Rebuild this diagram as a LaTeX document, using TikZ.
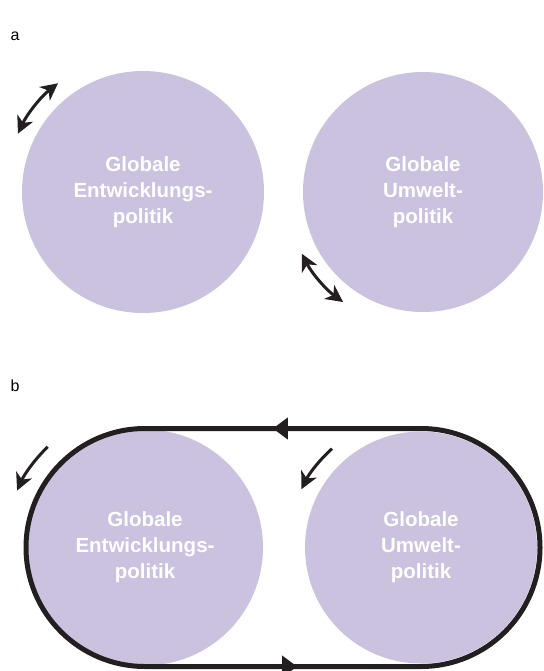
\documentclass[tikz,border=0pt]{standalone}
\usepackage{fontspec}
\newfontfamily\helv{Liberation Sans}
\usetikzlibrary{arrows.meta,decorations.markings}
\definecolor{lila}{HTML}{CAC2DE}
\definecolor{fast}{HTML}{231F20}

\begin{document}
\begin{tikzpicture}[x=1pt,y=-1pt,
  kreis/.style={circle,fill=lila,inner sep=0pt,minimum size=#1,
    text=white,align=center,font=\helv\bfseries\fontsize{20.5}{26}\selectfont},
  marke/.style={font=\helv\fontsize{16}{16}\selectfont},
  pfeil/.style={draw=fast,line width=3pt,-{Stealth[length=17pt,width=17pt,inset=5pt]}},
  doppel/.style={pfeil,{Stealth[length=17pt,width=17pt,inset=5pt]}-{Stealth[length=17pt,width=17pt,inset=5pt]}},
  rand/.style={color=fast,line width=5pt,postaction={decorate,decoration={markings,
    mark=at position 526pt with {\arrow{Triangle[length=15pt,width=21pt]}},
    mark=at position 1172pt with {\arrow{Triangle[length=15pt,width=21pt]}}}}}]
\useasboundingbox (0,0) rectangle (543,671);
% a
\node[marke] (ta) at (15,36) {a};
\node[kreis=242pt] (lo) at (143,192) {Globale\\Entwicklungs-\\politik};
\node[kreis=240pt] (ro) at (423,192) {Globale\\Umwelt-\\politik};
\coordinate (a1) at ([shift={(155:138pt)}]lo.center);
\coordinate (a2) at ([shift={(207:136pt)}]ro.center);
\draw[doppel] (a1) arc[start angle=155,end angle=128,radius=138pt];
\draw[doppel] (a2) arc[start angle=207,end angle=234,radius=136pt];
% b
\node[marke] (tb) at (15,386) {b};
\node[kreis=236pt] (lu) at (145,547.5) {Globale\\Entwicklungs-\\politik};
\node[kreis=232pt] (ru) at (421,547.5) {Globale\\Umwelt-\\politik};
\coordinate (so) at ([yshift=119pt]lu.center);
\coordinate (su) at ([yshift=-119pt]ru.center);
\draw[rand] (so) arc[start angle=90,end angle=270,radius=119pt]
  -- (su) arc[start angle=-90,end angle=90,radius=119pt] -- cycle;
\coordinate (b1) at ([shift={(134:140pt)}]lu.center);
\coordinate (b2) at ([shift={(132:133pt)}]ru.center);
\draw[pfeil] (b1) arc[start angle=134,end angle=156,radius=140pt];
\draw[pfeil] (b2) arc[start angle=132,end angle=154,radius=133pt];
\end{tikzpicture}
\end{document}
